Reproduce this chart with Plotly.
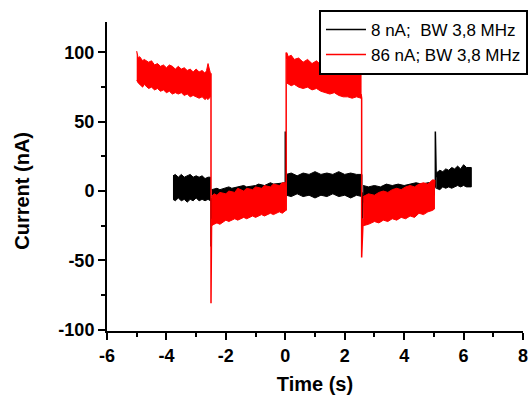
import plotly.graph_objects as go

# ---------------- data ----------------
# Red series: 86 nA; BW 3,8 MHz  -- noisy band given as upper / lower envelope per plateau
red_seg_t = [
    [-5.0, -4.95, -4.9, -4.8, -4.75, -4.6, -4.5, -4.4, -4.3, -4.2, -4.1, -4.0, -3.9, -3.8, -3.7, -3.6, -3.5, -3.4,
     -3.3, -3.2, -3.1, -3.0, -2.9, -2.8, -2.7, -2.65, -2.6, -2.55, -2.52],
    [-2.48, -2.4, -2.3, -2.2, -2.0, -1.9, -1.7, -1.6, -1.4, -1.3, -1.1, -1.0, -0.8, -0.7, -0.5, -0.4, -0.2, -0.1, 0.02],
    [0.05, 0.1, 0.2, 0.3, 0.45, 0.6, 0.75, 0.9, 1.05, 1.2, 1.35, 1.5, 1.65, 1.8, 1.95, 2.1, 2.25, 2.4, 2.55],
    [2.62, 2.8, 3.0, 3.15, 3.3, 3.45, 3.6, 3.75, 3.9, 4.05, 4.2, 4.35, 4.5, 4.65, 4.8, 4.95, 5.02],
]
red_seg_hi = [
    [101, 96, 97, 94, 95, 93, 94, 91, 92, 90, 91, 89, 91, 90, 88, 90, 88, 89,
     87, 88, 86, 88, 86, 87, 85, 87, 92, 86, 85],
    [-4, -2, -3, -1, -2, 0, -1, 2, 0, 2, 1, 3, 2, 4, 3, 5, 4, 6, 6],
    [100, 97, 98, 95, 96, 93, 95, 92, 94, 91, 93, 90, 92, 89, 91, 88, 90, 88, 88],
    [-4, -2, -3, -1, 0, -1, 1, 2, 1, 3, 4, 3, 5, 6, 5, 8, 8],
]
red_seg_lo = [
    [80, 78, 77, 75, 77, 74, 75, 73, 74, 72, 73, 71, 72, 70, 71, 70, 71, 69,
     70, 68, 69, 68, 67, 68, 66, 67, 66, 67, 68],
    [-25, -24, -23, -24, -21, -22, -20, -21, -19, -20, -18, -19, -17, -18, -16, -17, -15, -16, -14],
    [78, 77, 76, 77, 75, 74, 75, 73, 74, 72, 71, 70, 71, 69, 68, 68, 67, 68, 67],
    [-25, -24, -22, -23, -21, -22, -20, -21, -19, -20, -18, -19, -16, -17, -15, -14, -13],
]
# transitions / spikes of the red series (None = break)
red_edge_t = [-2.52, -2.5, -2.5, -2.48, None, 0.02, 0.03, 0.03, 0.05, None, 2.55, 2.57, 2.57, 2.62, None, 5.02, 5.03]
red_edge_v = [80, 85, -81, -20, None, -2, -14, 100, 95, None, 70, 67, -48, -20, None, 2, 8]

# Black series: 8 nA; BW 3,8 MHz
blk_seg_t = [
    [-3.78, -3.7, -3.6, -3.5, -3.4, -3.3, -3.2, -3.1, -3.0, -2.9, -2.8, -2.7, -2.6, -2.52],
    [-2.48, -2.3, -2.2, -1.9, -1.8, -1.6, -1.4, -1.3, -1.0, -0.9, -0.7, -0.5, -0.4, -0.02],
    [0.03, 0.2, 0.4, 0.6, 0.8, 1.0, 1.2, 1.4, 1.6, 1.8, 2.0, 2.2, 2.4, 2.58],
    [2.62, 2.8, 3.0, 3.2, 3.4, 3.6, 3.8, 4.0, 4.2, 4.4, 4.6, 4.8, 5.02],
    [5.08, 5.2, 5.3, 5.4, 5.5, 5.6, 5.7, 5.8, 5.9, 6.0, 6.1, 6.26],
]
blk_seg_hi = [
    [11, 12, 10, 12, 10, 11, 12, 10, 11, 10, 11, 9, 10, 10],
    [1, 2, 1, 3, 2, 3, 4, 3, 4, 5, 4, 6, 5, 6],
    [12, 13, 11, 13, 12, 14, 12, 13, 12, 14, 12, 13, 12, 12],
    [4, 3, 4, 3, 5, 4, 5, 4, 5, 6, 5, 6, 6],
    [13, 15, 14, 16, 15, 17, 16, 18, 16, 19, 17, 17],
]
blk_seg_lo = [
    [-6, -7, -5, -7, -6, -8, -6, -7, -5, -7, -6, -7, -6, -7],
    [-8, -8, -7, -7, -6, -6, -5, -5, -4, -5, -4, -4, -3, -4],
    [-3, -4, -2, -4, -3, -5, -3, -4, -2, -4, -3, -5, -3, -4],
    [-8, -8, -7, -7, -6, -6, -5, -5, -5, -4, -4, -4, -3],
    [2, 1, 3, 2, 3, 2, 3, 4, 3, 4, 3, 3],
]
blk_edge_t = [-2.52, -2.5, -2.5, -2.48, None, -0.01, 0.0, 0.0, 0.03, None, 2.58, 2.6, 2.6, 2.62, None, 5.02, 5.05, 5.05, 5.08]
blk_edge_v = [-6, -5, -40, -6, None, 3, 5, 43, 8, None, -2, -1, -20, -3, None, 2, 3, 43, 10]

x_tickvals = [-6, -4, -2, 0, 2, 4, 6, 8]
x_ticktext = ["-6", "-4", "-2", "0", "2", "4", "6", "8"]
y_tickvals = [-100, -50, 0, 50, 100]
y_ticktext = ["-100", "-50", "0", "50", "100"]

BLACK_NAME = "8 nA;\u00a0 BW 3,8 MHz"
RED_NAME = "86 nA; BW 3,8 MHz"


def band_polygon(seg_t, seg_hi, seg_lo):
    xs, ys = [], []
    for t, hi, lo in zip(seg_t, seg_hi, seg_lo):
        if xs:
            xs.append(None)
            ys.append(None)
        xs += list(t) + list(reversed(t))
        ys += list(hi) + list(reversed(lo))
    return xs, ys


FONT = "Liberation Sans, Arial, sans-serif"
fig = go.Figure()

for name, col, seg_t, seg_hi, seg_lo, et, ev in [
    (BLACK_NAME, "#000000", blk_seg_t, blk_seg_hi, blk_seg_lo, blk_edge_t, blk_edge_v),
    (RED_NAME, "#ff0000", red_seg_t, red_seg_hi, red_seg_lo, red_edge_t, red_edge_v),
]:
    bx, by = band_polygon(seg_t, seg_hi, seg_lo)
    fig.add_trace(go.Scatter(
        x=bx, y=by, mode="lines", fill="toself", fillcolor=col,
        line=dict(color=col, width=1), showlegend=False, legendgroup=name,
        hoverinfo="skip",
    ))
    fig.add_trace(go.Scatter(
        x=et, y=ev, mode="lines", name=name, legendgroup=name,
        line=dict(color=col, width=1.5), connectgaps=False,
    ))

axis_common = dict(
    showline=True, linecolor="black", linewidth=2,
    ticks="outside", tickcolor="black", tickwidth=2, ticklen=7,
    showgrid=False, zeroline=False, mirror=False, automargin=False,
    tickfont=dict(family=FONT, size=18, color="black", weight="bold"),
)

fig.update_xaxes(
    range=[-6, 8], tickmode="array", tickvals=x_tickvals, ticktext=x_ticktext,
    minor=dict(dtick=1, ticks="outside", ticklen=4, tickwidth=2, tickcolor="black"),
    title=dict(text="Time (s)", font=dict(family=FONT, size=20, color="black", weight="bold"), standoff=12),
    **axis_common,
)
fig.update_yaxes(
    range=[-101, 122], tickmode="array", tickvals=y_tickvals, ticktext=y_ticktext,
    minor=dict(dtick=25, ticks="outside", ticklen=4, tickwidth=2, tickcolor="black"),
    **axis_common,
)

fig.add_annotation(
    text="Current (nA)", textangle=-90, xref="paper", yref="y",
    x=-0.205, y=0, xanchor="center", yanchor="middle", showarrow=False,
    font=dict(family=FONT, size=20, color="black", weight="bold"),
)

fig.update_layout(
    width=530, height=396,
    margin=dict(l=107, r=7, t=22, b=65, autoexpand=False),
    paper_bgcolor="white", plot_bgcolor="white",
    legend=dict(
        x=1.012, xanchor="right", y=1.039, yanchor="top",
        bordercolor="black", borderwidth=2, bgcolor="white",
        font=dict(family=FONT, size=17, color="black"),
        tracegroupgap=0, itemwidth=40,
    ),
)

fig.write_html(
    "out.html",
    config={"displayModeBar": False},
    post_script="document.body.style.margin='0';document.body.style.overflow='hidden';",
)
